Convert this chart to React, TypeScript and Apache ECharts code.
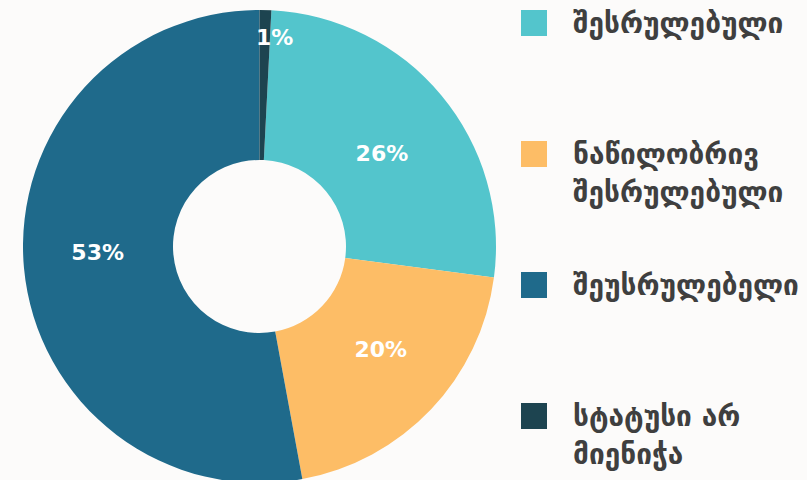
import React, { useEffect, useRef } from "react";
import * as echarts from "echarts";

const categories = [
  "შესრულებული",
  "ნაწილობრივ შესრულებული",
  "შეუსრულებელი",
  "სტატუსი არ მიენიჭა",
];
const legendLabels = [
  "შესრულებული",
  "ნაწილობრივ\nშესრულებული",
  "შეუსრულებელი",
  "სტატუსი არ\nმიენიჭა",
];
const values = [26.3, 20.0, 52.9, 0.8];
const colors = ["#53c5cc", "#fdbd66", "#1f6a8b", "#1d4450"];
// label nudges (styling only)
const labelOffsets = [
  [-4, 12],
  [2, -10],
  [2, -9],
  [11, -45],
];

const LINE_H = 38;
const FONT = "'DejaVu Sans', sans-serif";

export default function App() {
  const ref = useRef<HTMLDivElement>(null);
  useEffect(() => {
    document.body.style.margin = "0";
    const chart = echarts.init(ref.current!, null, { renderer: "svg" });
    const total = values.reduce((a, b) => a + b, 0);
    const lastShare = values[values.length - 1] / total;
    chart.setOption({
      animation: false,
      backgroundColor: "#fcfbfa",
      color: colors,
      legend: {
        orient: "vertical",
        left: 521,
        top: 4,
        height: 1000,
        padding: 0,
        itemWidth: 26,
        itemHeight: 26,
        itemGap: 55,
        icon: "rect",
        selectedMode: false,
        // multi-line labels get a leading blank line so their first line sits beside the square
        formatter: (name: string) => {
          const lbl = legendLabels[categories.indexOf(name)];
          const n = lbl.split("\n").length;
          return "\n".repeat(n - 1) + lbl;
        },
        textStyle: {
          fontFamily: FONT,
          fontWeight: "bold",
          fontSize: 28,
          lineHeight: LINE_H,
          color: "#3f3f3f",
          padding: [0, 0, 0, 21],
        },
        data: categories,
      },
      series: [
        {
          type: "pie",
          center: [259.5, 246.5],
          radius: [86.5, 236.5],
          startAngle: 90 - 360 * lastShare,
          clockwise: true,
          avoidLabelOverlap: false,
          labelLine: { show: false },
          emphasis: { disabled: true },
          label: {
            show: true,
            position: "inside",
            formatter: (p: any) => Math.round(p.percent) + "%",
            color: "#ffffff",
            fontFamily: FONT,
            fontWeight: "bold",
            fontSize: 22,
          },
          data: categories.map((name, i) => ({
            name,
            value: values[i],
            label: { offset: labelOffsets[i] },
          })),
        },
      ],
    });
    return () => chart.dispose();
  }, []);
  return <div ref={ref} style={{ width: 807, height: 480 }} />;
}
